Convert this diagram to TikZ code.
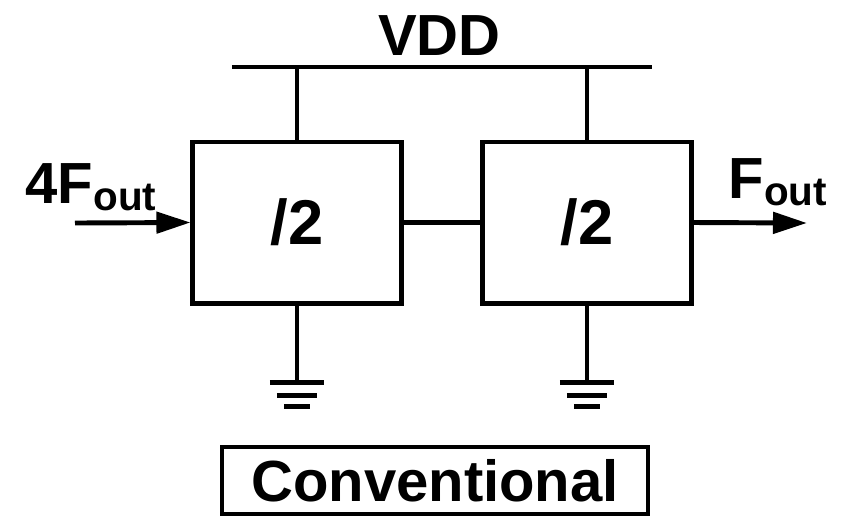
\documentclass[tikz,border=0pt]{standalone}
\usepackage{fontspec}
\setmainfont{Liberation Sans}
\usepackage{tikz}
\usetikzlibrary{arrows.meta}
\newcommand{\lowsub}[1]{{\fontsize{11.5pt}{12pt}\selectfont\raisebox{-0.07cm}{#1}}}
\tikzset{
  wire/.style={line width=1.4pt},
  divbox/.style={draw,line width=1.4pt,minimum width=2.08cm,minimum height=1.61cm,inner sep=0pt,font=\fontsize{18pt}{20pt}\selectfont\bfseries},
  sig/.style={wire,-{Triangle[length=0.34cm,width=0.21cm]}},
  lbl/.style={font=\fontsize{16.5pt}{18pt}\selectfont\bfseries,inner sep=0pt},
}
\begin{document}
\begin{tikzpicture}[x=0.01cm,y=-0.01cm]
  \useasboundingbox (0,0) rectangle (841,517);
  % ---------- the two dividers ----------
  \node[divbox] (div1) at (297,222.5) {/2};
  \node[divbox] (div2) at (587,222.5) {/2};
  \draw[wire] (div1.east) -- (div2.west);
  % ---------- supply rail ----------
  \coordinate (vddL) at (232,67);
  \coordinate (vddR) at (652,67);
  \draw[wire] (vddL) -- (vddR);
  \node[lbl,anchor=base] (vdd) at (439.5,55) {VDD};
  \foreach \d in {div1,div2} \draw[wire] (\d.north) -- (\d.north |- vddL);
  % ---------- input and output ----------
  \coordinate (in) at (75,223);
  \coordinate (out) at (807,223);
  \draw[sig] (in) -- (div1.west);
  \draw[sig] (div2.east) -- (out);
  \node[lbl,anchor=base west] (fin) at (25,203) {4F\lowsub{out}};
  \node[lbl,anchor=base west] (fout) at (728,198) {F\lowsub{out}};
  % ---------- grounds ----------
  \foreach \d/\g in {div1/gnd1,div2/gnd2} {
    \coordinate (\g) at ([yshift=-0.77cm]\d.south);
    \draw[wire] (\d.south) -- (\g);
    \draw[line width=1.6pt] ([xshift=-0.27cm]\g) -- ([xshift=0.27cm]\g);
    \draw[line width=1.6pt] ([xshift=-0.2cm,yshift=-0.13cm]\g) -- ([xshift=0.2cm,yshift=-0.13cm]\g);
    \draw[line width=1.6pt] ([xshift=-0.125cm,yshift=-0.24cm]\g) -- ([xshift=0.125cm,yshift=-0.24cm]\g);
  }
  % ---------- caption ----------
  \node[lbl,draw,line width=1.2pt,minimum width=4.26cm,minimum height=0.67cm] (conv) at (435,480.5) {Conventional};
\end{tikzpicture}
\end{document}
